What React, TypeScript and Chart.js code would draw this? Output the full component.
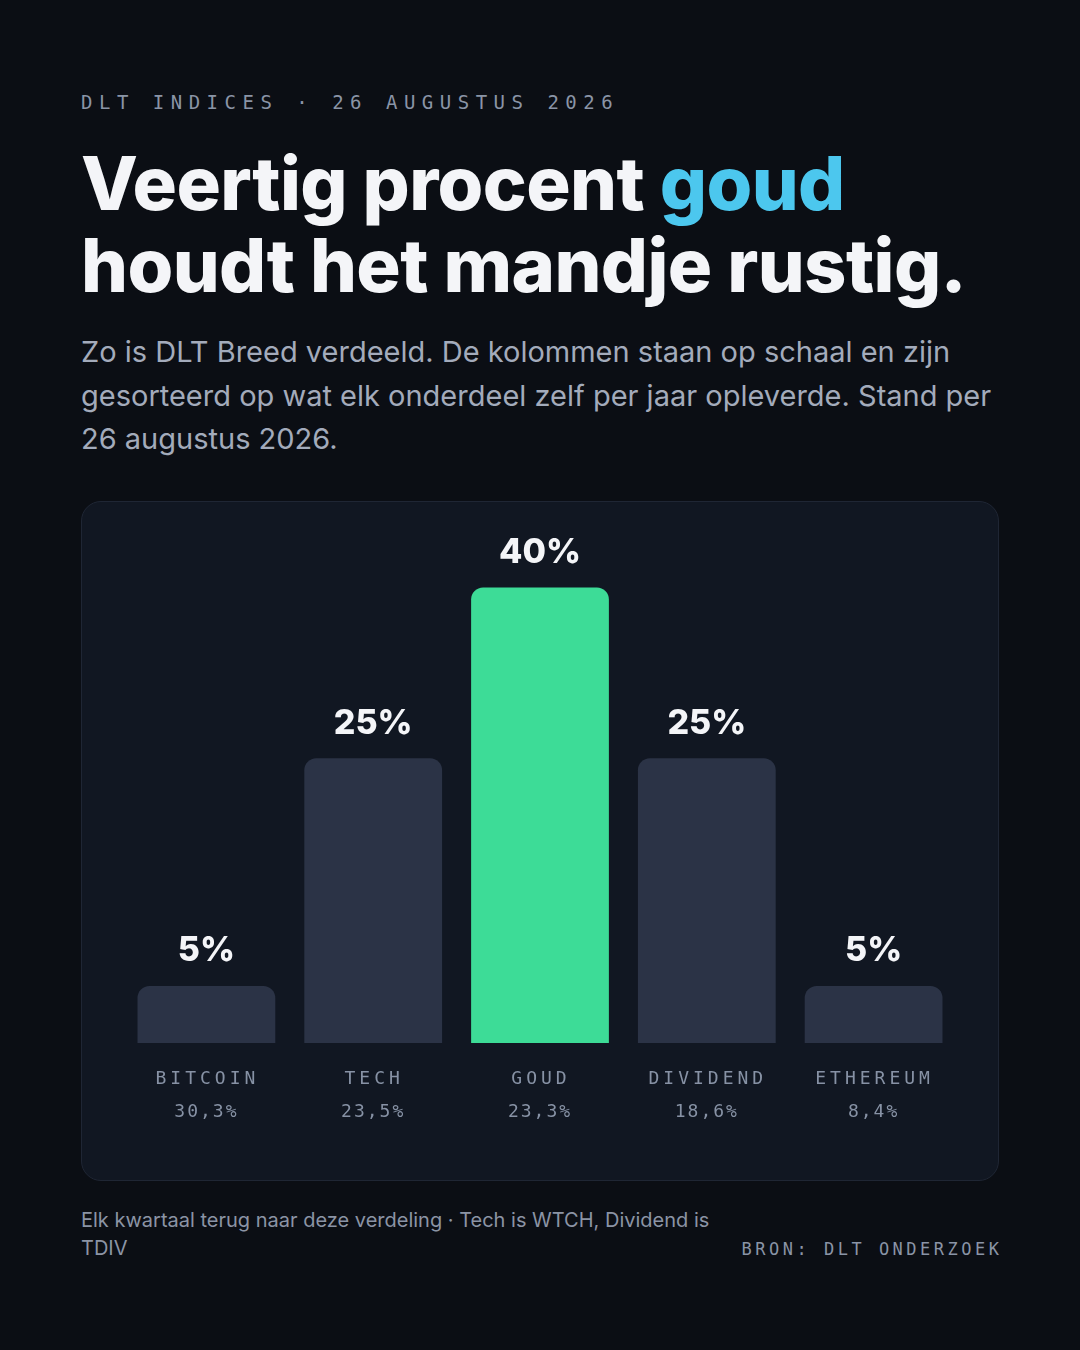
import { useEffect, useRef } from 'react';
import { Chart, registerables } from 'chart.js';

Chart.register(...registerables);

// chart data
const categories = ['BITCOIN', 'TECH', 'GOUD', 'DIVIDEND', 'ETHEREUM'];
const weights = [5, 25, 40, 25, 5];
const yearReturns = ['30,3%', '23,5%', '23,3%', '18,6%', '8,4%'];
const highlight = 'GOUD';

const MONO = '"DejaVu Sans Mono", "Liberation Mono", monospace';
const SANS = 'Inter, "Noto Sans", sans-serif';

const labelsPlugin = {
  id: 'barLabels',
  afterDatasetsDraw(chart: any) {
    const { ctx, chartArea } = chart;
    const meta = chart.getDatasetMeta(0);
    ctx.save();
    ctx.textAlign = 'center';
    ctx.textBaseline = 'middle';
    meta.data.forEach((bar: any, i: number) => {
      // value above the bar
      ctx.font = `800 34px ${SANS}`;
      ctx.fillStyle = '#f4f5f8';
      (ctx as any).letterSpacing = '0px';
      ctx.fillText(`${weights[i]}%`, bar.x, bar.y - 35);

      // category name + yearly return under the axis
      ctx.fillStyle = '#8792a5';
      ctx.font = `400 18px ${MONO}`;
      (ctx as any).letterSpacing = '4px';
      ctx.fillText(categories[i], bar.x + 1, chartArea.bottom + 36);
      ctx.font = `400 18px ${MONO}`;
      (ctx as any).letterSpacing = '2px';
      ctx.fillText(yearReturns[i], bar.x, chartArea.bottom + 69);
    });
    ctx.restore();
  },
};

const WeightChart = () => {
  const chartRef = useRef<HTMLCanvasElement>(null);
  const chartInstance = useRef<Chart | null>(null);

  useEffect(() => {
    if (!chartRef.current) return;
    const ctx = chartRef.current.getContext('2d');
    if (!ctx) return;
    if (chartInstance.current) chartInstance.current.destroy();

    chartInstance.current = new Chart(ctx, {
      type: 'bar',
      data: {
        labels: categories,
        datasets: [
          {
            data: weights,
            backgroundColor: categories.map((c) => (c === highlight ? '#3ddc97' : '#2b3346')),
            borderRadius: { topLeft: 12, topRight: 12, bottomLeft: 0, bottomRight: 0 },
            borderSkipped: false,
            barPercentage: 0.826,
            categoryPercentage: 1,
          },
        ],
      },
      options: {
        responsive: true,
        maintainAspectRatio: false,
        animation: false,
        layout: { padding: { left: 41, right: 41, top: 40, bottom: 137 } },
        plugins: {
          legend: { display: false },
          tooltip: { enabled: false },
        },
        scales: {
          x: { display: false },
          y: { display: false, min: 0, max: 44 },
        },
      },
      plugins: [labelsPlugin],
    });

    return () => {
      if (chartInstance.current) {
        chartInstance.current.destroy();
        chartInstance.current = null;
      }
    };
  }, []);

  return (
    <div style={{ position: 'relative', width: '100%', height: '100%' }}>
      <canvas ref={chartRef}></canvas>
    </div>
  );
};

export default function App() {
  useEffect(() => {
    document.body.style.margin = '0';
    document.body.style.background = '#0b0e14';
  }, []);

  return (
    <div
      style={{
        position: 'absolute',
        left: 0,
        top: 0,
        width: 1080,
        height: 1350,
        background: '#0b0e14',
        fontFamily: SANS,
        overflow: 'hidden',
      }}
    >
      <div
        style={{
          position: 'absolute',
          left: 81,
          top: 90,
          fontFamily: MONO,
          fontSize: 19,
          lineHeight: '24px',
          letterSpacing: 6.5,
          color: '#8a94a6',
          whiteSpace: 'nowrap',
        }}
      >
        DLT INDICES · 26 AUGUSTUS 2026
      </div>

      <h1
        style={{
          position: 'absolute',
          left: 81,
          top: 142,
          margin: 0,
          fontSize: 74,
          lineHeight: '82px',
          fontWeight: 800,
          letterSpacing: -0.6,
          color: '#f4f5f8',
          whiteSpace: 'nowrap',
        }}
      >
        Veertig procent <span style={{ color: '#4cc7ee' }}>goud</span>
        <br />
        houdt het mandje rustig.
      </h1>

      <p
        style={{
          position: 'absolute',
          left: 81,
          top: 330,
          width: 930,
          margin: 0,
          fontSize: 29,
          lineHeight: '43.5px',
          color: '#a3abbb',
        }}
      >
        Zo is DLT Breed verdeeld. De kolommen staan op schaal en zijn
        <br />
        gesorteerd op wat elk onderdeel zelf per jaar opleverde. Stand per
        <br />
        26 augustus 2026.
      </p>

      <div
        style={{
          position: 'absolute',
          left: 81,
          top: 501,
          width: 918,
          height: 680,
          boxSizing: 'border-box',
          border: '1px solid #1f2634',
          borderRadius: 20,
          background: '#111722',
        }}
      >
        <WeightChart />
      </div>

      <div
        style={{
          position: 'absolute',
          left: 81,
          top: 1206,
          width: 650,
          fontSize: 20,
          lineHeight: '28px',
          color: '#8b94a5',
        }}
      >
        Elk kwartaal terug naar deze verdeling · Tech is WTCH, Dividend is TDIV
      </div>

      <div
        style={{
          position: 'absolute',
          right: 81,
          top: 1238,
          fontFamily: MONO,
          fontSize: 17,
          lineHeight: '22px',
          letterSpacing: 3.5,
          marginRight: -3.5,
          color: '#8a94a6',
          whiteSpace: 'nowrap',
        }}
      >
        BRON: DLT ONDERZOEK
      </div>
    </div>
  );
}
